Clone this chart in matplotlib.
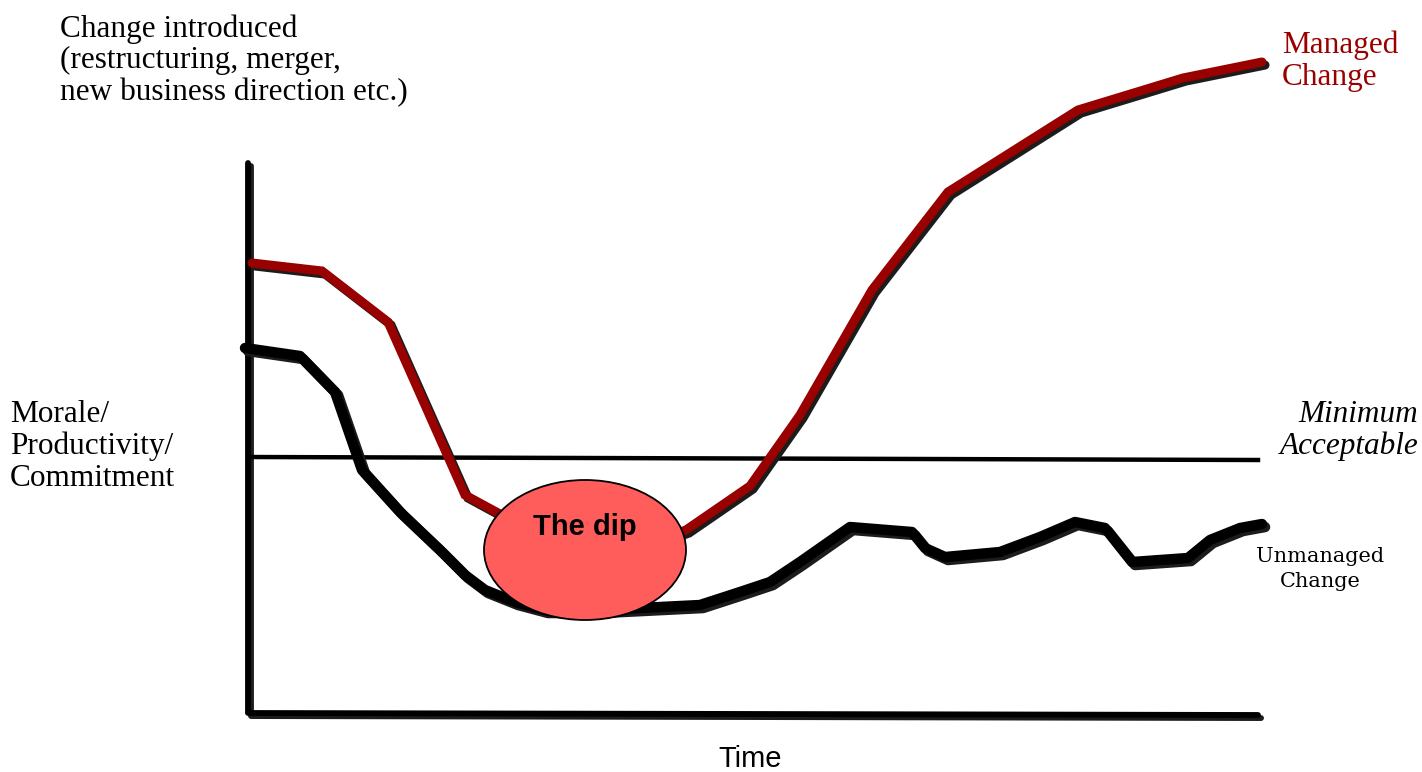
import matplotlib
matplotlib.use('Agg')
from matplotlib import pyplot as plt
from matplotlib.patches import Ellipse
import matplotlib.patheffects as pe

# values: time and morale in pixel units from the axis origin
managed_t = [4, 74, 140, 217, 252, 340, 438, 502, 552, 624, 700, 830, 935, 1014]
managed_m = [452, 444, 393, 220, 201, 150, 185, 229, 300, 425, 523, 605, 637, 653]

unmanaged_t = [-3, 52, 87, 114, 152, 192, 217, 237, 267, 297, 352, 452, 492, 522,
               552, 602, 664, 677, 697, 752, 792, 827, 857, 884, 940, 962, 992, 1014]
unmanaged_m = [367, 359, 323, 245, 203, 165, 140, 125, 113, 105, 105, 110, 123, 133,
               153, 188, 183, 167, 158, 163, 178, 193, 187, 153, 157, 175, 187, 191]

minimum_t = [0, 1010]
minimum_m = [258, 255]

dip_center = (337, 165)
dip_size = (202, 140)

plt.rcParams['font.family'] = ['Liberation Serif', 'DejaVu Serif']

fig = plt.figure(figsize=(14.22, 7.72), dpi=100)
ax = fig.add_axes([0, 0, 1, 1])
ax.set_xlim(-248, 1422 - 248)
ax.set_ylim(715 - 772, 715)
ax.axis('off')

shadow = [pe.SimpleLineShadow(offset=(2.2, -2.2), shadow_color='#1c1c1c', alpha=1), pe.Normal()]

# axes
ax.plot([0, 0], [3, 552], color='black', lw=4.2, solid_capstyle='round', path_effects=shadow, zorder=2)
ax.plot([0, 1010], [2, 0], color='black', lw=4.2, solid_capstyle='round', path_effects=shadow, zorder=2)

ax.plot(minimum_t, minimum_m, color='black', lw=3.2, zorder=2)

ax.plot(managed_t, managed_m, color='#990000', lw=6.5, solid_joinstyle='miter',
        solid_capstyle='round', path_effects=shadow, zorder=3)
ax.plot(unmanaged_t, unmanaged_m, color='black', lw=7.5, solid_capstyle='round',
        path_effects=shadow, zorder=3)

ax.add_patch(Ellipse(dip_center, dip_size[0], dip_size[1], facecolor='#ff5c5c',
                     edgecolor='black', lw=1.3, zorder=4))
ax.text(dip_center[0], 188, 'The dip', ha='center', va='center', fontsize=21,
        fontweight='bold', family=['Liberation Sans', 'DejaVu Sans'], zorder=5)

ax.text(-188, 701, 'Change introduced\n(restructuring, merger,\nnew business direction etc.)',
        ha='left', va='top', fontsize=22.5, linespacing=1.12)
ax.text(-238, 315, 'Morale/\nProductivity/\nCommitment', ha='left', va='top',
        fontsize=22.5, linespacing=1.12)
ax.text(1170, 315, 'Minimum\nAcceptable', ha='right', va='top', fontsize=22.5,
        style='italic', linespacing=1.12)
ax.text(1034, 684, 'Managed\nChange', ha='left', va='top', fontsize=22.5,
        color='#990000', linespacing=1.12)
ax.text(1072, 168, 'Unmanaged\nChange', ha='center', va='top', fontsize=15,
        family=['DejaVu Serif'], linespacing=1.4)
ax.text(502, -44, 'Time', ha='center', va='center', fontsize=21,
        family=['Liberation Sans', 'DejaVu Sans'])

fig.savefig('out.png', dpi=100)
